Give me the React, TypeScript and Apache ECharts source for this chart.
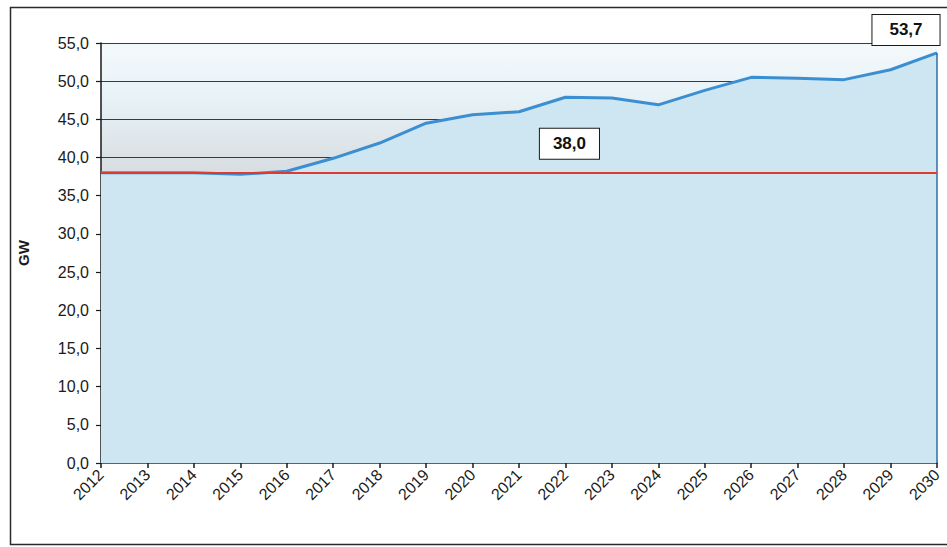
import React, { useEffect, useRef } from "react";
import * as echarts from "echarts";

// Installed capacity per year, GW
const years: string[] = [
  "2012", "2013", "2014", "2015", "2016", "2017", "2018", "2019", "2020", "2021",
  "2022", "2023", "2024", "2025", "2026", "2027", "2028", "2029", "2030",
];
const capacity: number[] = [
  38.0, 38.0, 38.0, 37.8, 38.2, 39.9, 41.9, 44.5, 45.6, 46.0,
  47.9, 47.8, 46.9, 48.8, 50.5, 50.4, 50.2, 51.5, 53.7,
];
// Baseline level drawn as a horizontal reference line
const baseline = 38.0;
const baselineLabelYear = "2022";

const yTicks = { min: 0, max: 55, interval: 5 };

const fmt = (v: number) => v.toFixed(1).replace(".", ",");

const boxLabel = {
  backgroundColor: "#ffffff",
  borderColor: "#1a1a1a",
  borderWidth: 1,
  color: "#111111",
  fontFamily: "'Liberation Sans Narrow', 'Liberation Sans', Arial, sans-serif",
  fontWeight: "bold" as const,
  fontSize: 17,
  lineHeight: 18,
};

export default function App() {
  const ref = useRef<HTMLDivElement>(null);

  useEffect(() => {
    if (!ref.current) return;
    const chart = echarts.init(ref.current, undefined, { renderer: "svg" });
    const last = capacity.length - 1;

    chart.setOption({
      animation: false,
      backgroundColor: "#ffffff",
      grid: {
        left: 101,
        right: 10,
        top: 43,
        bottom: 84,
        show: true,
        borderWidth: 0,
        backgroundColor: new echarts.graphic.LinearGradient(0, 0, 0, 1, [
          { offset: 0, color: "#f4f9fb" },
          { offset: 0.12, color: "#e8f3f8" },
          { offset: 0.22, color: "#e0e8ec" },
          { offset: 0.3, color: "#d8dee1" },
          { offset: 0.32, color: "#cde6f2" },
          { offset: 1, color: "#cde6f2" },
        ]),
      },
      graphic: [
        {
          type: "rect",
          shape: { x: 10.5, y: 7.5, width: 960, height: 537 },
          style: { fill: "none", stroke: "#2a2a2a", lineWidth: 1.5 },
          silent: true,
          z: -1,
        },
      ],
      xAxis: {
        type: "category",
        data: years,
        boundaryGap: false,
        axisLine: { lineStyle: { color: "#2b6ea8", width: 2 } },
        axisTick: { show: true, length: 5, lineStyle: { color: "#1a1a1a", width: 1.5 } },
        axisLabel: {
          rotate: 45,
          margin: 9,
          fontSize: 16,
          color: "#1a1a1a",
          fontFamily: "'Liberation Sans', Arial, sans-serif",
          interval: 0,
        },
        splitLine: { show: false },
      },
      yAxis: {
        type: "value",
        min: yTicks.min,
        max: yTicks.max,
        interval: yTicks.interval,
        name: "GW",
        nameLocation: "middle",
        nameGap: 70,
        nameTextStyle: {
          fontSize: 15,
          fontWeight: "bold",
          color: "#1a1a1a",
          fontFamily: "'Liberation Sans', Arial, sans-serif",
        },
        axisLine: { show: true, lineStyle: { color: "#1a1a1a", width: 1.5 } },
        axisTick: { show: true, length: 5, lineStyle: { color: "#1a1a1a", width: 1.2 } },
        axisLabel: {
          formatter: (v: number) => fmt(v),
          fontSize: 16,
          margin: 12,
          color: "#1a1a1a",
          fontFamily: "'Liberation Sans', Arial, sans-serif",
        },
        splitLine: { show: true, lineStyle: { color: "#3a3a3a", width: 1 } },
      },
      series: [
        {
          type: "line",
          data: capacity.map((v, i) =>
            i === last
              ? {
                  value: v,
                  label: {
                    show: true,
                    position: "top",
                    distance: 8,
                    offset: [-31, 0],
                    formatter: () => fmt(v),
                    padding: [6, 17],
                    ...boxLabel,
                  },
                }
              : v
          ),
          symbol: "circle",
          symbolSize: 0,
          showSymbol: true,
          clip: false,
          lineStyle: { color: "#3b8fd0", width: 3 },
          areaStyle: { color: "#cde6f2", opacity: 1 },
          z: 2,
          markLine: {
            silent: true,
            symbol: "none",
            label: { show: false },
            lineStyle: { color: "#2b6ea8", width: 1.5, type: "solid" },
            data: [
              [
                { coord: [years[last], 0] },
                { coord: [years[last], capacity[last]] },
              ],
            ],
          },
        },
        {
          type: "line",
          data: [],
          z: 3,
          markLine: {
            silent: true,
            symbol: "none",
            label: { show: false },
            lineStyle: { color: "#e03a30", width: 2, type: "solid" },
            data: [{ yAxis: baseline }],
          },
          markPoint: {
            silent: true,
            symbol: "rect",
            symbolSize: 0,
            data: [{ coord: [baselineLabelYear, baseline], value: baseline }],
            label: {
              show: true,
              position: "inside",
              offset: [4, -29],
              formatter: () => fmt(baseline),
              padding: [6, 13],
              ...boxLabel,
            },
          },
        },
      ],
    });

    return () => chart.dispose();
  }, []);

  return (
    <div
      ref={ref}
      style={{ position: "fixed", left: 0, top: 0, width: 947, height: 547 }}
    />
  );
}
